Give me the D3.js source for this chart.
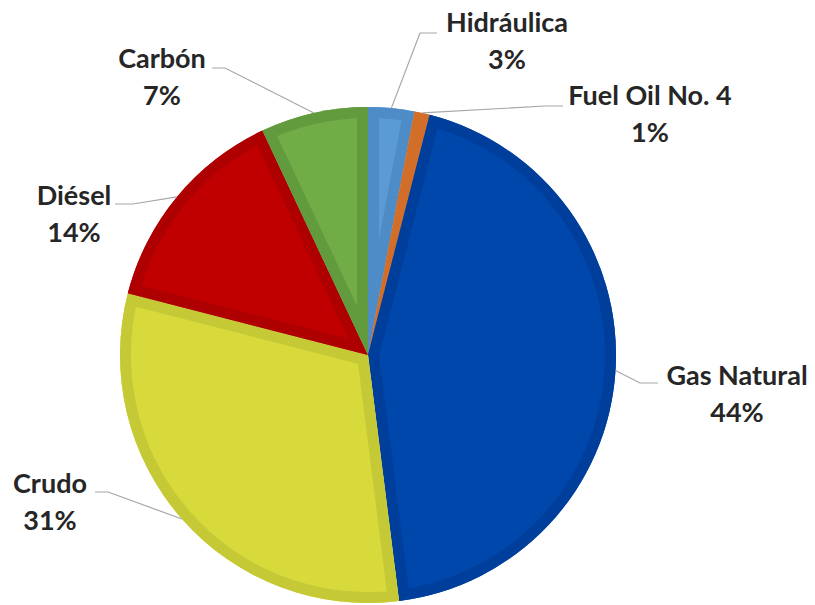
<!DOCTYPE html>
<html>
<head>
<meta charset="utf-8">
<script src="https://cdn.jsdelivr.net/npm/d3@7"></script>
<style>
  html, body { margin: 0; padding: 0; background: #fff; }
  svg { display: block; }
  .lbl { font-family: Lato, "Open Sans", sans-serif; font-weight: 700; fill: #262626; }
</style>
</head>
<body>
<svg id="chart" width="815" height="605"></svg>
<script>
// Energy sources, clockwise from 12 o'clock
const categories = ["Hidráulica", "Fuel Oil No. 4", "Gas Natural", "Crudo", "Diésel", "Carbón"];
const shares = [3, 1, 44, 31, 14, 7];

// slice fill and inner-border colours
const fills   = ["#5B9BD5", "#E57A2E", "#0047AB", "#D8DA3C", "#C00000", "#70AD47"];
const borders = ["#4E8CC7", "#D26E27", "#003E9C", "#C6C936", "#AE0000", "#629B3D"];

// label layout: text centre x, name baseline y, leader start (x,y) and elbow x
const labelLayout = [
  { x: 507, y: 32,  lx: 437, ly: 33,  ex: 420 },
  { x: 650, y: 105, lx: 563, ly: 106, ex: 545 },
  { x: 737, y: 385, lx: 658, ly: 383, ex: 640 },
  { x: 50,  y: 493, lx: 95,  ly: 492, ex: 108 },
  { x: 74,  y: 205, lx: 115, ly: 204, ex: 133 },
  { x: 162, y: 68,  lx: 212, ly: 68,  ex: 225 }
];

const svg = d3.select("#chart");
const cx = 368, cy = 355, r = 248;

const data = categories.map((c, i) => ({ name: c, value: shares[i], i }));
const pie = d3.pie().sort(null).value(d => d.value).startAngle(0).endAngle(2 * Math.PI);
const arcs = pie(data);
const arc = d3.arc().innerRadius(0).outerRadius(r);

const defs = svg.append("defs");
const g = svg.append("g").attr("transform", `translate(${cx},${cy})`);

arcs.forEach((a, i) => {
  defs.append("clipPath").attr("id", "clip" + i)
    .append("path").attr("d", arc(a));
});

const slices = g.selectAll("g.slice").data(arcs).join("g").attr("class", "slice");
slices.append("path")
  .attr("d", arc)
  .attr("fill", d => fills[d.data.i]);
// border drawn inside each slice only
slices.append("path")
  .attr("d", arc)
  .attr("fill", "none")
  .attr("stroke", d => borders[d.data.i])
  .attr("stroke-width", 22)
  .attr("stroke-linejoin", "miter")
  .attr("clip-path", d => `url(#clip${d.data.i})`);

// leader lines and labels
const fmt = v => v + "%";
arcs.forEach((a, i) => {
  const L = labelLayout[i];
  const mid = (a.startAngle + a.endAngle) / 2;
  const px = cx + r * Math.sin(mid);
  const py = cy - r * Math.cos(mid);
  svg.append("polyline")
    .attr("points", `${L.lx},${L.ly} ${L.ex},${L.ly} ${px},${py}`)
    .attr("fill", "none")
    .attr("stroke", "#a6a6a6")
    .attr("stroke-width", 1.2);
  const t = svg.append("text").attr("class", "lbl")
    .attr("text-anchor", "middle")
    .attr("font-size", 27);
  t.append("tspan").attr("x", L.x).attr("y", L.y).text(a.data.name);
  t.append("tspan").attr("x", L.x).attr("y", L.y + 37).text(fmt(a.data.value));
});
</script>
</body>
</html>
